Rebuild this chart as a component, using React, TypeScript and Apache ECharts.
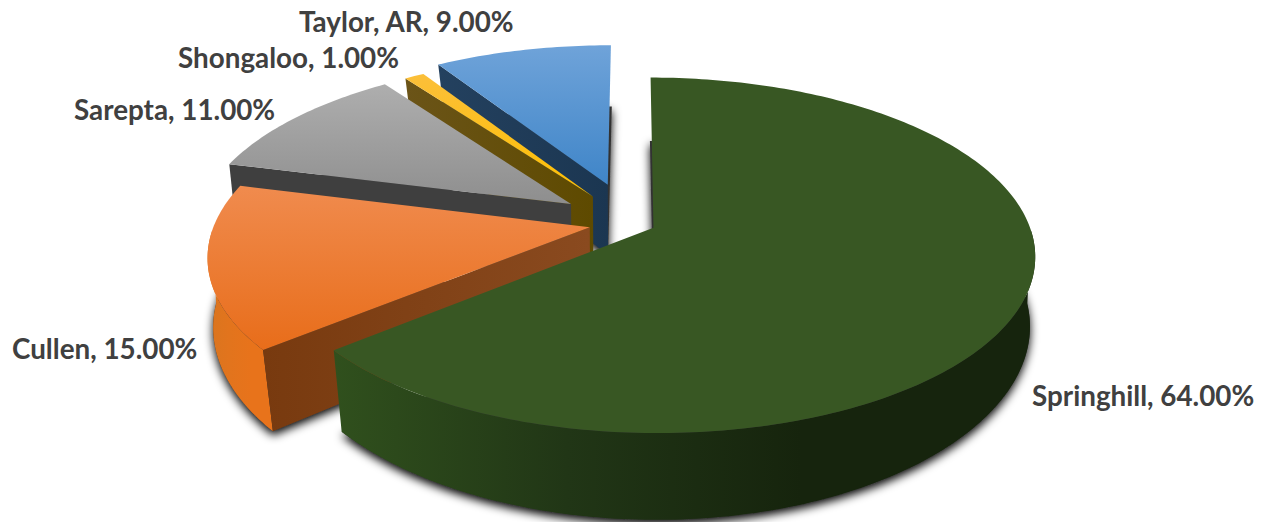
import React, { useEffect, useRef } from "react";
import * as echarts from "echarts";

const categories = ["Springhill", "Cullen", "Sarepta", "Shongaloo", "Taylor, AR"];
const values = [64, 15, 11, 1, 9];

// slice explosion, as a share of the radius
const explode = [0.063, 0.115, 0.2, 0.19, 0.24];
const drawOrder = [4, 3, 2, 1, 0];

const topColors = [
  ["#385723", "#385723"],
  ["#F08B4E", "#E86D1A"],
  ["#AEAEAE", "#8E8E8E"],
  ["#FBBF3A", "#FFC000"],
  ["#6FA3D9", "#3F85C8"],
];
const wallColors = [
  ["#30501D", "#213616", "#16240D", "#16240D"],
  ["#D9751F", "#E2741D", "#E8731B", "#E8731B"],
  ["#3F3F3F", "#3F3F3F", "#3F3F3F", "#3F3F3F"],
  ["#5E4A00", "#5E4A00", "#5E4A00", "#5E4A00"],
  ["#1F3D5C", "#1F3D5C", "#1F3D5C", "#1F3D5C"],
];
const sideColors = [
  ["#30501D", "#30501D"],
  ["#783A0F", "#8A4A1F"],
  ["#3F3F3F", "#3F3F3F"],
  ["#6B5418", "#5E4A00"],
  ["#24415F", "#1B3651"],
];

// label anchor: left edge and vertical middle, in page pixels
const labelX = [1032, 12, 74, 178, 299];
const labelY = [395, 348, 109, 57, 21];

const CX = 632;
const CY = 223;
const A = 375;
const B = 172;
const P = 0.155;
const H = 73;

const total = values.reduce((a, b) => a + b, 0);
const rad = (d: number) => (d * Math.PI) / 180;

function sliceAngles(i: number): [number, number] {
  let s = 0;
  for (let k = 0; k < i; k++) s += values[k];
  return [(s / total) * 360, ((s + values[i]) / total) * 360];
}

function project(u: number, v: number, bottom: boolean): number[] {
  const s = 1 / (1 + P * v);
  const k = bottom ? 0.992 - 0.028 * Math.abs(v) : 1;
  return [CX + A * u * s * k, CY - B * v * s + (bottom ? H * s : 0)];
}

function geometry(i: number) {
  const [a, b] = sliceAngles(i);
  const mid = rad((a + b) / 2);
  const eu = Math.sin(mid) * explode[i];
  const ev = Math.cos(mid) * explode[i];
  const at = (t: number, bottom: boolean) =>
    project(eu + Math.sin(rad(t)), ev + Math.cos(rad(t)), bottom);
  const vertex = (bottom: boolean) => project(eu, ev, bottom);
  const arc = (from: number, to: number, bottom: boolean) => {
    const pts: number[][] = [];
    const n = Math.max(2, Math.ceil(to - from));
    for (let j = 0; j <= n; j++) pts.push(at(from + ((to - from) * j) / n, bottom));
    return pts;
  };
  return { a, b, at, vertex, arc };
}

const grad = (x2: number, y2: number, c: string[]) =>
  new echarts.graphic.LinearGradient(
    0,
    0,
    x2,
    y2,
    c.map((color, k) => ({ offset: k / (c.length - 1), color }))
  );

const silhouette = (Math.acos(-P) * 180) / Math.PI;

function renderShadow(params: any) {
  const i = drawOrder[params.dataIndex];
  const g = geometry(i);
  return {
    type: "polygon",
    silent: true,
    shape: { points: [g.vertex(true), ...g.arc(g.a, g.b, true)] },
    style: {
      fill: "#333333",
      shadowBlur: 10,
      shadowColor: "rgba(0,0,0,1)",
      shadowOffsetX: 0,
      shadowOffsetY: 4,
    },
  };
}

function renderSlice(params: any) {
  const i = drawOrder[params.dataIndex];
  const g = geometry(i);
  const children: any[] = [];

  const from = Math.max(g.a, silhouette - 8);
  const to = Math.min(g.b, 360 - silhouette + 8);
  if (to > from) {
    children.push({
      type: "polygon",
      silent: true,
      shape: { points: [...g.arc(from, to, false), ...g.arc(from, to, true).reverse()] },
      style: { fill: grad(1, 0, wallColors[i]) },
    });
  }
  if (Math.sin(rad(g.a)) < -1e-6) {
    children.push({
      type: "polygon",
      silent: true,
      shape: {
        points: [g.vertex(false), g.at(g.a, false), g.at(g.a, true), g.vertex(true)],
      },
      style: { fill: grad(1, 0, sideColors[i]) },
    });
  }
  children.push({
    type: "polygon",
    silent: true,
    shape: { points: [g.vertex(false), ...g.arc(g.a, g.b, false)] },
    style: { fill: grad(0, 1, topColors[i]) },
  });
  return { type: "group", children };
}

function renderLabel(params: any) {
  const i = params.dataIndex;
  return {
    type: "text",
    silent: true,
    style: {
      x: labelX[i],
      y: labelY[i],
      text: `${categories[i]}, ${values[i].toFixed(2)}%`,
      fill: "#404040",
      font: 'bold 27.8px Lato, "Open Sans", sans-serif',
      textAlign: "left",
      textVerticalAlign: "middle",
    },
  };
}

export default function App() {
  const ref = useRef<HTMLDivElement>(null);
  useEffect(() => {
    document.body.style.margin = "0";
    const chart = echarts.init(ref.current!, null, { renderer: "svg" });
    const ordered = drawOrder.map((i) => [i, values[i]]);
    chart.setOption({
      animation: false,
      backgroundColor: "#ffffff",
      series: [
        { type: "custom", coordinateSystem: "none", z: 1, data: ordered, renderItem: renderShadow },
        { type: "custom", coordinateSystem: "none", z: 2, data: ordered, renderItem: renderSlice },
        {
          type: "custom",
          coordinateSystem: "none",
          z: 3,
          data: values.map((v, i) => [i, v]),
          renderItem: renderLabel,
        },
      ],
    });
    return () => chart.dispose();
  }, []);
  return <div ref={ref} style={{ width: 1265, height: 522 }} />;
}
